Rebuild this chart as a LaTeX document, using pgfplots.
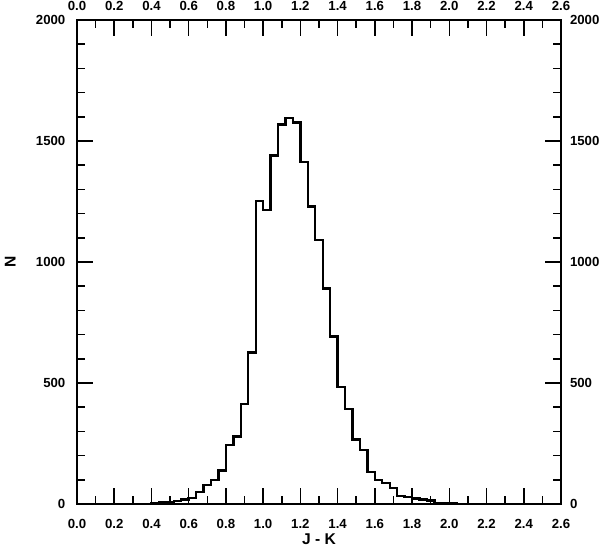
\documentclass[border=0pt]{standalone}
\usepackage{pgfplots}
\pgfplotsset{compat=1.18}
\usetikzlibrary{calc}
\usepackage{fontspec}
\setmainfont{Liberation Sans}
\begin{document}
\begin{tikzpicture}
\pgfplotsset{
  myaxis/.style={
    scale only axis, width=242pt, height=242pt,
    xmin=0, xmax=2.6, ymin=0, ymax=2000,
    xtick={0,0.2,...,2.61}, minor x tick num=1,
    ytick={0,500,1000,1500,2000}, minor y tick num=4,
    tick align=inside, tick pos=both,
    major tick length=8pt, minor tick length=4pt,
    every tick/.style={line width=0.8pt, black},
    axis line style={line width=0.6pt},
    /pgf/number format/assume math mode=true,
    xticklabel style={/pgf/number format/fixed, /pgf/number format/fixed zerofill, /pgf/number format/precision=1},
    yticklabel style={/pgf/number format/1000 sep={}},
    tick label style={font=\fontsize{6.6}{7}\selectfont\bfseries},
  }
}
\begin{axis}[myaxis,
    xticklabel style={yshift=-4pt},
    yticklabel style={xshift=-2.3pt},
    xlabel={J - K}, ylabel={N},
    label style={font=\fontsize{7.8}{8}\selectfont\bfseries},
    xlabel style={at={(axis description cs:0.5,-0.072)}, anchor=center},
    ylabel style={at={(axis description cs:-0.138,0.5)}, anchor=center},
  ]
\addplot[const plot, line width=1.2pt, black, mark=none] coordinates {
(0.32,1) (0.36,1) (0.40,2) (0.44,6) (0.48,9) (0.52,13) (0.56,18) (0.60,26)
(0.64,49) (0.68,79) (0.72,99) (0.76,138) (0.80,244) (0.84,279) (0.88,412)
(0.92,626) (0.96,1251) (1.00,1214) (1.04,1440) (1.08,1569) (1.12,1596)
(1.16,1576) (1.20,1413) (1.24,1229) (1.28,1091) (1.32,891) (1.36,692)
(1.40,483) (1.44,392) (1.48,266) (1.52,224) (1.56,131) (1.60,100) (1.64,86)
(1.68,65) (1.72,33) (1.76,30) (1.80,22) (1.84,18) (1.88,14) (1.92,5)
(1.96,4) (2.00,2) (2.04,1) (2.08,1) (2.12,0)
};
\coordinate (ll) at (rel axis cs:0,0);
\coordinate (ur) at (rel axis cs:1,1);
\end{axis}
\begin{axis}[myaxis,
    xticklabel pos=right, yticklabel pos=right,
    xticklabel style={yshift=1.3pt},
    yticklabel style={xshift=1pt},
  ]
\end{axis}
\pgfresetboundingbox
\path[use as bounding box] ($(ll)+(-38.5pt,-21pt)$) rectangle ($(ur)+(19.5pt,10pt)$);
\end{tikzpicture}
\end{document}
